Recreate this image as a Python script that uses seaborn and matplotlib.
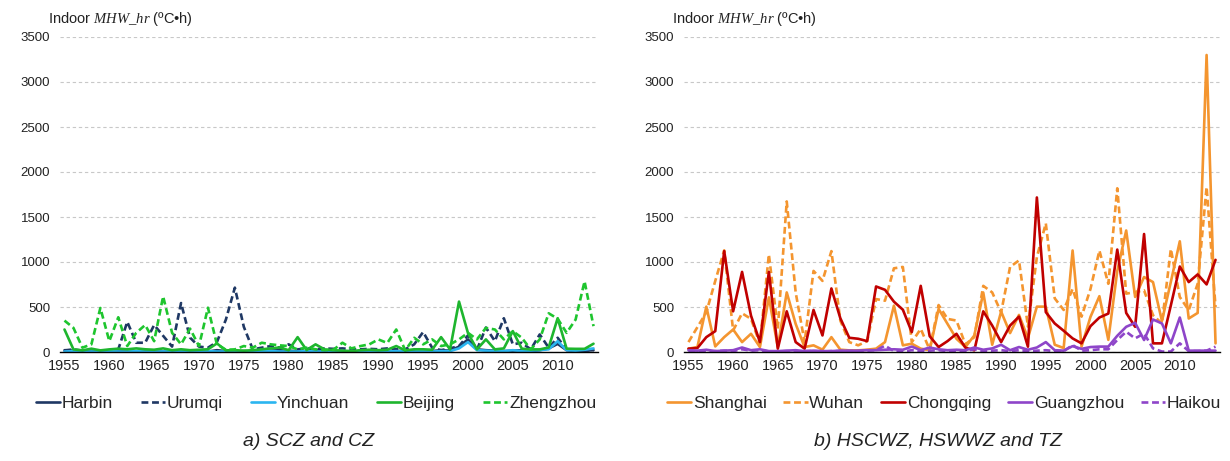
import numpy as np
import pandas as pd
import seaborn as sns
import matplotlib.pyplot as plt

years = list(range(1955, 2015))

# Panel a) severe cold and cold zones
harbin = [20, 15, 5, 10, 5, 5, 10, 5, 5, 10,
          5, 5, 5, 5, 10, 5, 5, 20, 10, 5,
          10, 5, 10, 15, 20, 15, 10, 5, 20, 15,
          10, 5, 10, 5, 10, 5, 5, 10, 15, 10,
          15, 10, 20, 15, 60, 140, 30, 20, 15, 10,
          15, 20, 10, 20, 40, 90, 20, 10, 15, 20]
urumqi = [18, 29, 15, 10, 10, 20, 29, 335, 103, 103,
          300, 180, 60, 544, 160, 60, 48, 110, 360, 715,
          280, 29, 48, 66, 48, 85, 29, 40, 30, 40,
          35, 40, 30, 30, 35, 30, 40, 30, 30, 85,
          222, 48, 20, 40, 66, 185, 25, 272, 121, 375,
          85, 103, 29, 195, 48, 158, 29, 20, 15, 20]
yinchuan = [5, 10, 5, 5, 5, 10, 5, 5, 10, 5,
            5, 5, 10, 5, 5, 5, 10, 5, 5, 5,
            5, 5, 10, 10, 5, 5, 5, 10, 5, 5,
            5, 10, 5, 5, 10, 15, 5, 10, 5, 5,
            15, 5, 10, 10, 40, 110, 20, 15, 10, 10,
            20, 10, 15, 20, 30, 120, 20, 15, 25, 40]
beijing = [250, 29, 18, 37, 18, 29, 37, 30, 40, 30,
           25, 40, 20, 30, 20, 25, 30, 95, 18, 20,
           15, 20, 30, 40, 50, 20, 165, 22, 85, 29,
           20, 15, 10, 20, 25, 20, 25, 66, 18, 30,
           30, 25, 165, 29, 560, 210, 29, 140, 29, 40,
           232, 37, 29, 29, 50, 375, 37, 35, 35, 92]
zhengzhou = [349, 268, 48, 85, 489, 121, 386, 66, 213, 300,
             120, 618, 213, 85, 260, 66, 492, 85, 25, 29,
             66, 48, 103, 85, 74, 66, 29, 48, 30, 20,
             25, 103, 40, 66, 85, 140, 100, 250, 18, 158,
             85, 140, 66, 85, 140, 213, 140, 268, 250, 140,
             232, 158, 29, 140, 430, 370, 213, 360, 785, 287]

# Panel b) hot summer zones and temperate zone
shanghai = [37, 55, 504, 62, 165, 250, 110, 202, 55, 607,
            55, 662, 312, 55, 74, 26, 165, 26, 18, 18,
            26, 37, 110, 515, 74, 92, 37, 20, 478, 312,
            147, 55, 184, 660, 81, 449, 210, 412, 154, 504,
            504, 81, 44, 1128, 60, 390, 620, 135, 900, 1350,
            612, 833, 777, 345, 780, 1230, 372, 434, 3300, 96]
wuhan = [110, 276, 441, 790, 1129, 239, 430, 368, 92, 1084,
         257, 1673, 662, 110, 901, 790, 1121, 349, 110, 74,
         121, 588, 570, 930, 945, 110, 257, 26, 522, 368,
         349, 85, 165, 735, 662, 441, 945, 1018, 283, 1055,
         1430, 596, 467, 700, 393, 700, 1127, 758, 1819, 648,
         666, 685, 409, 317, 1145, 611, 464, 758, 1834, 500]
chongqing = [37, 44, 165, 232, 1121, 452, 890, 404, 110, 890,
             37, 452, 110, 37, 467, 184, 706, 375, 158, 147,
             121, 728, 691, 559, 470, 221, 735, 176, 55, 121,
             202, 48, 18, 452, 294, 110, 294, 393, 59, 1717,
             443, 317, 236, 151, 96, 287, 383, 427, 1138, 434,
             280, 1311, 96, 96, 519, 950, 777, 862, 751, 1024]
guangzhou = [20, 15, 25, 10, 15, 20, 50, 20, 30, 10,
             10, 15, 20, 10, 15, 10, 10, 15, 15, 15,
             20, 20, 25, 30, 25, 60, 20, 50, 30, 20,
             25, 20, 50, 25, 40, 80, 20, 55, 25, 50,
             110, 20, 15, 65, 35, 55, 60, 60, 180, 280,
             324, 133, 361, 317, 96, 383, 15, 15, 15, 15]
haikou = [5, 10, 5, 10, 15, 10, 30, 15, 20, 5,
          5, 10, 5, 10, 10, 5, 10, 10, 10, 10,
          15, 20, 70, 10, 5, 20, 10, 15, 20, 10,
          10, 10, 30, 10, 15, 20, 10, 20, 10, 15,
          20, 10, 10, 77, 15, 20, 30, 30, 133, 225,
          151, 206, 40, 5, 5, 96, 10, 10, 15, 59]

cities_a = ["Harbin", "Urumqi", "Yinchuan", "Beijing", "Zhengzhou"]
cities_b = ["Shanghai", "Wuhan", "Chongqing", "Guangzhou", "Haikou"]
values_a = [harbin, urumqi, yinchuan, beijing, zhengzhou]
values_b = [shanghai, wuhan, chongqing, guangzhou, haikou]

colors = {
    "Harbin": "#1F3864", "Urumqi": "#1F3864", "Yinchuan": "#2BB5F0",
    "Beijing": "#1EB52E", "Zhengzhou": "#1EC52E",
    "Shanghai": "#F4952F", "Wuhan": "#F4952F", "Chongqing": "#C00000",
    "Guangzhou": "#8E45C9", "Haikou": "#8E45C9",
}
short_dash = (2.6, 1.4)
dashes = {
    "Harbin": "", "Urumqi": short_dash, "Yinchuan": "", "Beijing": "",
    "Zhengzhou": short_dash, "Shanghai": "", "Wuhan": short_dash,
    "Chongqing": "", "Guangzhou": "", "Haikou": short_dash,
}

def long_frame(cities, values):
    rows = []
    for c, v in zip(cities, values):
        for y, val in zip(years, v):
            rows.append((y, c, val))
    return pd.DataFrame(rows, columns=["Year", "City", "Value"])

sns.set_theme(style="white")
plt.rcParams["font.family"] = ["Liberation Sans", "DejaVu Sans"]
plt.rcParams["mathtext.fontset"] = "custom"
plt.rcParams["mathtext.it"] = "Liberation Serif:italic"
plt.rcParams["mathtext.rm"] = "Liberation Serif"

W, H = 1230, 461
fig = plt.figure(figsize=(W / 100, H / 100), dpi=100)
ax_a = fig.add_axes([60 / W, 109 / H, 538 / W, 315 / H])
ax_b = fig.add_axes([684 / W, 109 / H, 536 / W, 315 / H])

panels = [
    (ax_a, cities_a, values_a, 0.476, 1.6, 48, 309, "a) SCZ and CZ"),
    (ax_b, cities_b, values_b, 0.485, 0.95, 672, 938, "b) HSCWZ, HSWWZ and TZ"),
]

for ax, cities, values, leg_x, col_sp, lab_x, cap_x, caption in panels:
    df = long_frame(cities, values)
    sns.lineplot(data=df, x="Year", y="Value", hue="City", style="City",
                 hue_order=cities, style_order=cities,
                 palette={c: colors[c] for c in cities},
                 dashes={c: dashes[c] for c in cities},
                 linewidth=1.9, ax=ax)
    ax.set_xlim(1954.5, 2014.5)
    ax.set_ylim(0, 3500)
    ax.set_yticks(range(0, 3501, 500))
    ax.set_xticks(range(1955, 2011, 5))
    ax.set_xlabel("")
    ax.set_ylabel("")
    ax.yaxis.grid(True, color="#C8C8C8", linestyle=(0, (3, 2.5)), linewidth=0.8)
    ax.xaxis.grid(False)
    ax.set_axisbelow(True)
    for side in ("top", "right", "left"):
        ax.spines[side].set_visible(False)
    ax.spines["bottom"].set_color("black")
    ax.spines["bottom"].set_linewidth(1.0)
    ax.tick_params(axis="y", length=0, labelsize=9.5, pad=7, colors="#222222")
    ax.tick_params(axis="x", length=0, labelsize=10.5, pad=5, colors="#222222")
    sns.move_legend(ax, "center", bbox_to_anchor=(leg_x, -0.162), ncol=5,
                    title=None, frameon=False, fontsize=12.5,
                    handlelength=1.4, handletextpad=0.1, columnspacing=col_sp)
    fig.text(lab_x / W, 1 - 22.5 / H, r"Indoor $\mathit{MHW\_hr}$ (ºC•h)",
             fontsize=10.5, va="baseline", ha="left", color="#222222")
    fig.text(cap_x / W, 1 - 441 / H, caption, fontsize=14, style="italic",
             ha="center", va="center", color="#222222")

fig.savefig("out.png", dpi=100)
